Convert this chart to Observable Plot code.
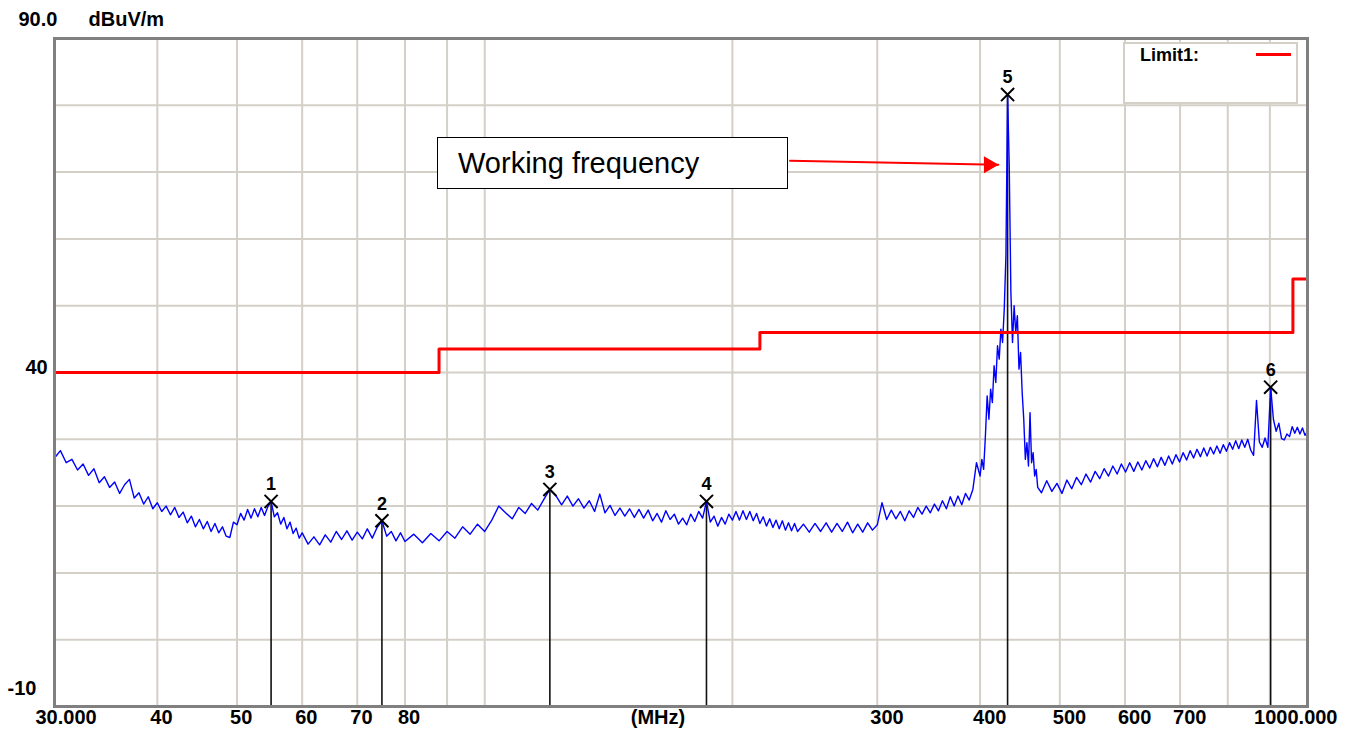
<!DOCTYPE html>
<html>
<head>
<meta charset="utf-8">
<script src="https://cdn.jsdelivr.net/npm/d3@7"></script>
<script src="https://cdn.jsdelivr.net/npm/@observablehq/plot@0.6"></script>
<style>
  html, body { margin: 0; padding: 0; background: #fff; }
  #wrap { position: relative; width: 1346px; height: 735px; overflow: hidden; font-family: "Liberation Sans", Arial, sans-serif; }
  #wrap svg { position: absolute; left: 0; top: 0; }
  #legend { position: absolute; left: 1123px; top: 42px; width: 171px; height: 58px; background: #fff; border: 2px solid #d4d0c8; }
  #legend .lab { position: absolute; left: 15px; top: 2px; font-weight: bold; font-size: 18px; line-height: 1; color: #000; }
  #legend .sw { position: absolute; left: 131px; top: 9px; width: 35px; height: 3px; background: #ff0000; }
  #note { position: absolute; left: 437px; top: 137px; width: 349px; height: 50px; border: 1.5px solid #000; background: #fff; }
  #note span { position: absolute; left: 20px; top: 11px; font-size: 29px; line-height: 1; color: #000; white-space: nowrap; }
</style>
</head>
<body>
<div id="wrap"></div>
<script>
// ---- Data ----
// Measured spectrum (MHz, dBuV/m)
const traceFreq = [
  30,30.5,31,31.5,32,32.5,33,33.5,34,34.5,35,35.5,36,36.5,37,37.5,38,38.5,39,39.5,40,40.5,41,41.5,42,42.5,43,43.5,44,44.5,45,45.5,46,46.5,47,47.5,48,48.5,49,49.5,50,50.5,51,51.5,52,52.5,53,53.5,54,54.5,55,55.5,56,56.5,57,57.5,58,58.5,59,59.5,60,
  61,62,63,64,65,66,67,68,69,70,71,72,73,74,75,76,77,78,79,80,82,84,86,88,90,92,94,96,98,100,102,104,106,108,110,112,114,116,118,120,
  122,124,126,128,130,132,134,136,138,140,142,144,146,148,150,152,154,156,158,160,162,164,166,168,170,172,174,176,178,180,182,184,186,188,190,192,194,196,198,200,202,204,206,208,210,212,214,216,218,220,222,224,226,228,230,232,234,236,238,240,
  244,248,252,256,260,264,268,272,276,280,284,288,292,296,300,304,308,312,316,320,324,328,332,336,340,344,348,352,356,360,364,368,372,376,380,384,388,392,396,400,
  402,404,406,408,410,412,414,416,418,420,422,424,426,428,430,432,434,436,438,440,442,444,446,448,450,452,454,456,458,460,462,464,466,468,470,
  475,482,489,496,503,510,517,524,531,538,545,552,559,566,573,580,587,594,601,608,615,622,629,636,643,650,657,664,671,678,685,692,699,706,713,720,727,734,741,748,755,762,769,776,783,790,797,804,811,818,825,832,839,846,853,860,867,874,881,888,895,902,909,916,923,930,937,944,951,958,965,972,979,986,993,1000
];
const traceLevel = [
  27.2,28.3,26.5,27.0,25.4,26.3,24.6,25.6,23.5,24.4,22.8,23.6,21.9,23.2,24.0,21.2,22.0,20.3,21.4,19.6,20.5,19.2,20.0,18.7,19.8,18.3,19.1,17.5,18.5,16.9,18.0,16.6,17.7,16.2,17.4,16.0,16.9,15.5,15.3,17.6,17.2,18.9,17.9,19.5,18.2,19.6,18.4,19.8,18.6,19.9,20.7,18.4,19.0,17.3,18.3,16.6,17.6,15.9,16.7,15.2,16.0,
  14.3,15.4,14.2,15.7,14.6,16.2,15.0,16.3,14.9,16.1,15.1,16.6,15.2,16.8,17.8,15.5,16.2,14.8,16.0,14.7,15.8,14.5,15.9,14.8,16.2,15.2,16.9,15.8,17.3,16.2,17.9,20.0,19.0,18.1,19.8,18.9,20.4,19.4,21.0,22.5,
  21.6,20.2,21.5,20.0,21.1,19.7,20.8,19.2,21.8,19.0,20.1,18.6,19.7,18.5,19.6,18.3,19.5,18.2,19.4,17.8,18.9,17.6,19.3,18.0,18.8,17.3,18.2,17.2,18.8,17.7,19.2,18.2,20.7,17.6,18.5,17.0,18.3,17.3,18.8,17.9,19.2,17.9,19.3,18.0,19.2,17.8,18.9,17.4,18.4,17.0,18.1,16.8,17.9,16.6,17.8,16.4,17.5,16.3,17.4,16.2,
  17.3,16.1,17.4,16.2,17.5,16.1,17.4,16.2,17.6,16.0,17.3,16.1,17.5,16.4,17.2,20.5,18.0,19.4,18.1,19.2,17.8,19.3,18.3,19.8,18.8,20.0,19.0,20.3,19.3,20.8,19.6,21.4,20.0,21.5,20.2,21.9,20.9,22.5,26.5,24.5,
  27.0,25.5,30.5,36.5,33.0,37.5,35.5,41.0,38.5,44.0,42.0,46.5,44.5,49.5,57.5,81.6,71.0,52.0,44.5,50.0,46.0,48.5,40.5,43.0,37.0,33.0,27.0,29.5,26.0,34.0,26.5,28.0,24.5,25.5,22.8,
  22.0,23.8,22.2,23.4,21.9,23.9,22.6,24.3,23.2,24.8,23.6,25.2,24.1,25.6,24.5,26.0,24.8,26.3,25.1,26.5,25.2,26.6,25.4,26.8,25.7,27.1,25.9,27.3,26.1,27.5,26.3,27.7,26.6,28.0,26.9,28.3,27.2,28.5,27.4,28.7,27.5,28.8,27.8,29.0,27.9,29.2,28.2,29.5,28.5,29.8,28.6,29.9,28.8,30.0,28.4,27.6,35.8,29.6,28.8,30.2,28.8,37.8,33.0,31.2,32.4,30.1,29.9,30.8,30.4,31.9,30.9,31.8,30.8,31.7,30.6,31.2
];

// Limit1 (step limit line)
const limitFreq  = [30, 88, 216, 960, 1000];
const limitLevel = [40, 43.5, 46, 54, 54];

// Markers
const markerId    = ["1", "2", "3", "4", "5", "6"];
const markerFreq  = [55, 75, 120, 186, 432, 902];
const markerLevel = [20.7, 17.8, 22.5, 20.7, 81.6, 37.8];

// Grid and tick labels
const xGrid = [40, 50, 60, 70, 80, 90, 100, 200, 300, 400, 500, 600, 700, 800, 900];
const yGrid = [0, 10, 20, 30, 40, 50, 60, 70, 80];
const xTickValues = [40, 50, 60, 70, 80, 300, 400, 500, 600, 700];
const xTickLabels = ["40", "50", "60", "70", "80", "300", "400", "500", "600", "700"];
const xFirstLabel = "30.000", xLastLabel = "1000.000", xUnit = "(MHz)";
const yTopLabel = "90.0", yUnit = "dBuV/m";
const yTickValues = [40, -10];
const yTickLabels = ["40", "-10"];

// Annotation arrow (from note box towards the working-frequency peak)
const arrowFreq  = [235, 421];
const arrowLevel = [71.7, 71.1];
const noteText = "Working frequency";
const legendLabel = "Limit1:";

// ---- Build tables ----
const trace   = traceFreq.map((f, i) => ({freq: f, level: traceLevel[i]}));
const limit   = limitFreq.map((f, i) => ({freq: f, level: limitLevel[i]}));
const markers = markerFreq.map((f, i) => ({id: markerId[i], freq: f, level: markerLevel[i]}));
const xTicks  = xTickValues.map((v, i) => ({v, label: xTickLabels[i]}));
const arrow   = arrowFreq.map((f, i) => ({freq: f, level: arrowLevel[i]}));

const bold = {fontSize: 20, fontWeight: "bold", fill: "#000"};

const chart = Plot.plot({
  width: 1346,
  height: 735,
  marginLeft: 54,
  marginRight: 39,
  marginTop: 38,
  marginBottom: 29,
  x: {type: "log", domain: [30, 1000], axis: null},
  y: {domain: [-10, 90], axis: null},
  style: {fontFamily: '"Liberation Sans", Arial, sans-serif', background: "#fff", overflow: "visible"},
  marks: [
    Plot.ruleX(xGrid, {stroke: "#d4d0c8", strokeWidth: 2}),
    Plot.ruleY(yGrid, {stroke: "#d4d0c8", strokeWidth: 2}),
    Plot.ruleX(markers, {x: "freq", y1: -10, y2: "level", stroke: "#111", strokeWidth: 1.6}),
    Plot.line(trace, {x: "freq", y: "level", stroke: "#0000ff", strokeWidth: 1.4}),
    Plot.line(limit, {x: "freq", y: "level", curve: "step-after", stroke: "#ff0000", strokeWidth: 3}),
    Plot.dot(markers, {x: "freq", y: "level", symbol: "times", r: 6, stroke: "#000", strokeWidth: 2}),
    Plot.text(markers, {x: "freq", y: "level", text: "id", dy: -17, fontSize: 18, fontWeight: "bold", fill: "#000"}),
    Plot.frame({stroke: "#808080", strokeWidth: 3}),
    // x-axis labels
    Plot.text(xTicks, {x: "v", text: "label", frameAnchor: "bottom", textAnchor: "start", dx: -7, dy: 17, ...bold}),
    Plot.text([30], {x: d => d, text: () => xFirstLabel, frameAnchor: "bottom", textAnchor: "start", dx: -19, dy: 17, ...bold}),
    Plot.text([1000], {x: d => d, text: () => xLastLabel, frameAnchor: "bottom", textAnchor: "end", dx: 30, dy: 17, ...bold}),
    Plot.text([xUnit], {text: d => d, frameAnchor: "bottom", dx: -23, dy: 17, ...bold}),
    // y-axis labels
    Plot.text([90], {y: d => d, text: () => yTopLabel, frameAnchor: "left", textAnchor: "start", dx: -36, dy: -19, ...bold}),
    Plot.text([90], {y: d => d, text: () => yUnit, frameAnchor: "left", textAnchor: "start", dx: 34, dy: -19, ...bold}),
    Plot.text([yTickValues[0]], {y: d => d, text: () => yTickLabels[0], frameAnchor: "left", textAnchor: "start", dx: -29, dy: -5, ...bold}),
    Plot.text([yTickValues[1]], {y: d => d, text: () => yTickLabels[1], frameAnchor: "left", textAnchor: "start", dx: -47, dy: -18, ...bold}),
    // annotation arrow
    Plot.line(arrow, {x: "freq", y: "level", stroke: "#ff0000", strokeWidth: 2}),
    Plot.dot([arrow[1]], {x: "freq", y: "level", symbol: "triangle", rotate: 90, r: 6.3, fill: "#ff0000", stroke: "none", dx: -9.5})
  ]
});

const wrap = document.getElementById("wrap");
wrap.appendChild(chart);

const legend = document.createElement("div");
legend.id = "legend";
legend.innerHTML = `<span class="lab"></span><div class="sw"></div>`;
legend.querySelector(".lab").textContent = legendLabel;
wrap.appendChild(legend);

const note = document.createElement("div");
note.id = "note";
const noteSpan = document.createElement("span");
noteSpan.textContent = noteText;
note.appendChild(noteSpan);
wrap.appendChild(note);
</script>
</body>
</html>
